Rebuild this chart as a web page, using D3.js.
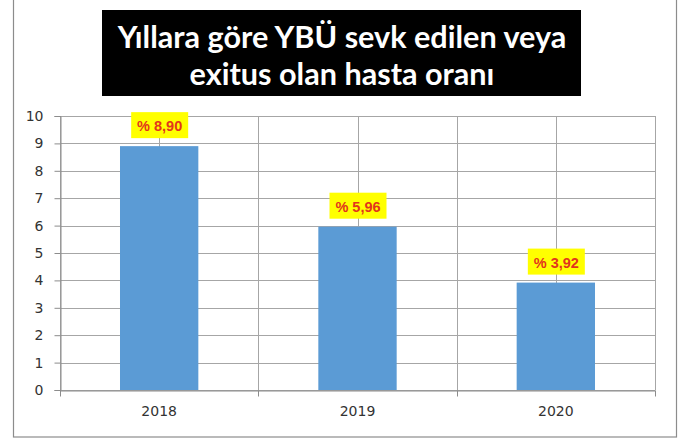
<!DOCTYPE html>
<html><head><meta charset="utf-8">
<script src="https://cdn.jsdelivr.net/npm/d3@7"></script>
<style>body{margin:0;background:#fff}svg{display:block}</style>
</head><body><svg id="c" width="686" height="439"></svg>
<script>
const categories = ["2018", "2019", "2020"];
const values = [8.90, 5.96, 3.92];
const valueLabels = ["% 8,90", "% 5,96", "% 3,92"];
const yTicks = [0,1,2,3,4,5,6,7,8,9,10];
const titleLines = ["Yıllara göre YBÜ sevk edilen veya", "exitus olan hasta oranı"];

const svg = d3.select("#c");
const m = {left: 60, right: 655, top: 116, bottom: 390};

// outer frame
svg.append("rect").attr("x", 13.5).attr("y", -5).attr("width", 663).attr("height", 442)
  .attr("fill", "#fff").attr("stroke", "#8c8c8c").attr("stroke-width", 1.2);

// title box
svg.append("rect").attr("x", 102).attr("y", 10).attr("width", 479).attr("height", 86).attr("fill", "#000");
const tg = svg.append("g");
const t1 = tg.append("text").attr("x", 342).attr("y", 48).attr("text-anchor", "middle")
  .attr("font-family", "Lato, 'Open Sans', sans-serif").attr("font-weight", "bold")
  .attr("font-size", 30).attr("fill", "#fff").text(titleLines[0]);
const w1 = t1.node().getComputedTextLength();
const fs = 30 * 449 / w1;
t1.attr("font-size", fs);
tg.append("text").attr("x", 342).attr("y", 85).attr("text-anchor", "middle")
  .attr("font-family", "Lato, 'Open Sans', sans-serif").attr("font-weight", "bold")
  .attr("font-size", fs).attr("fill", "#fff").text(titleLines[1]);

const x = d3.scaleBand().domain(categories).range([m.left, m.right]).paddingInner(0).paddingOuter(0);
const y = d3.scaleLinear().domain([0, 10]).range([m.bottom, m.top]);

const grid = svg.append("g").attr("stroke", "#a6a6a6").attr("stroke-width", 1);
yTicks.forEach(t => {
  grid.append("line").attr("x1", m.left).attr("x2", m.right)
    .attr("y1", Math.round(y(t)) + 0.5).attr("y2", Math.round(y(t)) + 0.5);
});
const vx = [];
categories.forEach(c => { vx.push(x(c)); vx.push(x(c) + x.bandwidth() / 2); });
vx.push(m.right);
vx.forEach(v => {
  grid.append("line").attr("x1", Math.round(v) + 0.5).attr("x2", Math.round(v) + 0.5)
    .attr("y1", m.top).attr("y2", m.bottom);
});

// bars
const bw = x.bandwidth() * 0.395;
svg.append("g").selectAll("rect").data(categories).join("rect")
  .attr("x", (d) => x(d) + x.bandwidth() / 2 - bw / 2)
  .attr("y", (d, i) => y(values[i]))
  .attr("width", bw)
  .attr("height", (d, i) => m.bottom - y(values[i]))
  .attr("fill", "#5b9bd5");

// axes
const yAxis = svg.append("g").attr("transform", `translate(${m.left + 0.5},0)`)
  .call(d3.axisLeft(y).tickValues(yTicks).tickSize(6).tickPadding(11));
yAxis.select(".domain").attr("stroke", "#8c8c8c");
yAxis.selectAll(".tick line").attr("stroke", "#8c8c8c");
yAxis.selectAll("text").attr("font-family", "'DejaVu Sans', sans-serif").attr("font-size", 14).attr("fill", "#333");

const xAxis = svg.append("g").attr("transform", `translate(0,${Math.round(m.bottom) + 0.5})`)
  .call(d3.axisBottom(x).tickSize(0).tickPadding(16));
xAxis.select(".domain").attr("stroke", "#8c8c8c");
xAxis.selectAll("text").attr("font-family", "'DejaVu Sans', sans-serif").attr("font-size", 14).attr("fill", "#333");
[m.left, ...categories.map(c => x(c) + x.bandwidth())].forEach(v => {
  xAxis.append("line").attr("x1", Math.round(v) + 0.5).attr("x2", Math.round(v) + 0.5)
    .attr("y1", 0).attr("y2", 6).attr("stroke", "#8c8c8c");
});

// value labels
const lg = svg.append("g");
categories.forEach((c, i) => {
  const cx = x(c) + x.bandwidth() / 2;
  const top = y(values[i]);
  lg.append("rect").attr("x", cx - 28).attr("y", top - 34).attr("width", 57).attr("height", 26).attr("fill", "#ffff00");
  lg.append("text").attr("x", cx + 0.5).attr("y", top - 15).attr("text-anchor", "middle")
    .attr("font-family", "'Liberation Sans', Arial, sans-serif").attr("font-weight", "bold").attr("font-size", 14.5)
    .attr("fill", "#e2351c").text(valueLabels[i]);
});
</script></body></html>
